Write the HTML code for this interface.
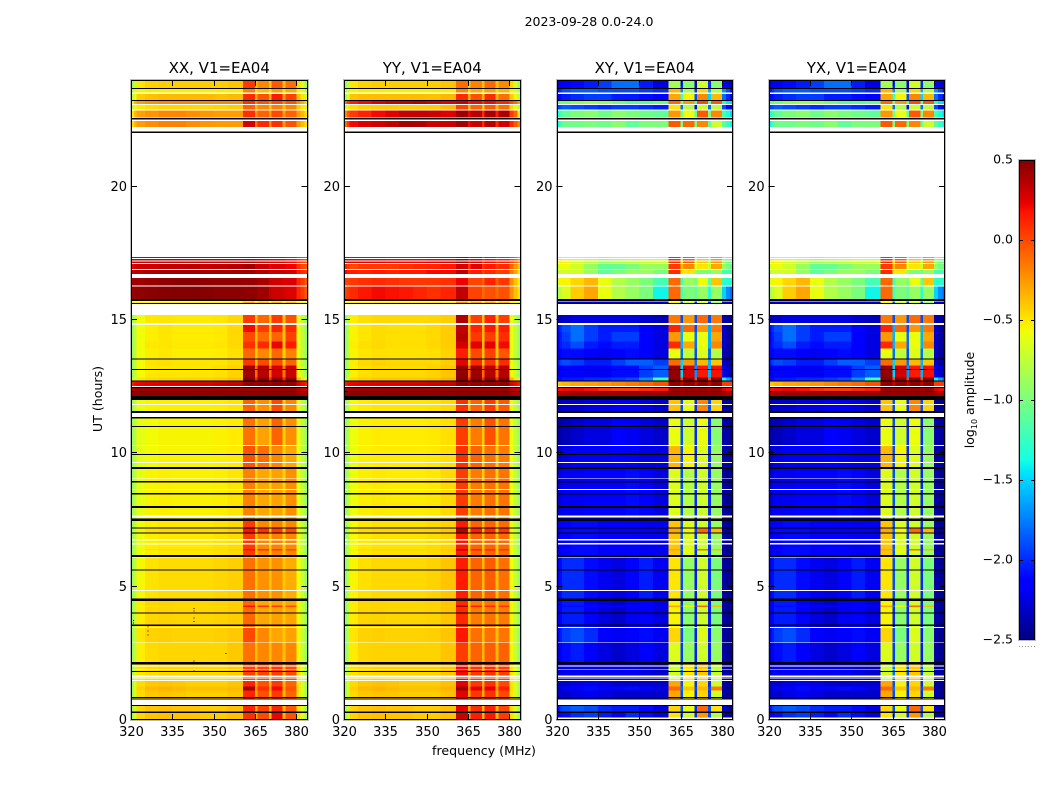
<!DOCTYPE html>
<html>
<head>
<meta charset="utf-8">
<title>2023-09-28 0.0-24.0</title>
<style>
html,body{margin:0;padding:0;background:#fff;width:1050px;height:800px;overflow:hidden}
svg{display:block}
text{font-family:"DejaVu Sans","Liberation Sans",sans-serif;fill:#000}
</style>
</head>
<body>
<svg id="chart" xmlns="http://www.w3.org/2000/svg" width="1050" height="800" viewBox="0 0 1050 800">
<rect x="0" y="0" width="1050" height="800" fill="#fff"/>
<text x="589" y="26" font-size="12.5" text-anchor="middle">2023-09-28 0.0-24.0</text>
<text x="484" y="755" font-size="12.6" text-anchor="middle">frequency (MHz)</text>
<text transform="translate(102,399) rotate(-90)" font-size="12.6" text-anchor="middle">UT (hours)</text>
<text transform="translate(974,400) rotate(-90)" font-size="12.5" text-anchor="middle">log<tspan font-size="8" dy="3">10</tspan><tspan dy="-3"> amplitude</tspan></text>
</svg>
<script>
// ---------- DATA ----------
const panelTitles = ['XX, V1=EA04','YY, V1=EA04','XY, V1=EA04','YX, V1=EA04'];
const xTickValues = [320,335,350,365,380];
const yTickValues = [0,5,10,15,20];
const colorbarTicks = [0.5,0,-0.5,-1,-1.5,-2,-2.5];
// frequency channel edges, MHz (20 channels)
const channelEdges = [320,321,322,325,330,335,340,345,350,355,360.6,365,365.9,370,370.9,375,376,380,381.5,383,384];

// log10 amplitude per channel, for each observed spectrum state
const spectraXX = {
a:[-.85,-.72,-.5,-.44,-.42,-.42,-.42,-.42,-.42,-.4,.05,-.38,-.2,-.42,-.05,-.38,-.12,-.46,-.65,-.85],
b:[-.8,-.66,-.56,-.53,-.53,-.53,-.53,-.53,-.53,-.52,-.18,-.46,-.37,-.5,-.28,-.48,-.32,-.55,-.66,-.8],
c:[-.75,-.58,-.42,-.38,-.36,-.36,-.36,-.36,-.38,-.36,.1,-.3,-.03,-.32,.15,-.28,.02,-.38,-.5,-.7],
d:[-.55,-.35,-.27,-.22,-.2,-.18,-.18,-.18,-.18,-.18,.08,-.18,-.03,-.18,0,-.18,-.03,-.22,-.32,-.45],
e:[-.75,-.6,-.52,-.48,-.46,-.46,-.46,-.46,-.45,-.43,-.08,-.36,-.2,-.4,-.18,-.37,-.2,-.42,-.52,-.66],
f:[-.52,-.37,-.28,-.24,-.2,-.2,-.22,-.25,-.27,-.27,.08,-.25,-.08,-.27,0,-.27,-.08,-.27,-.36,-.48],
g:[-.48,-.35,-.27,-.22,-.18,-.18,-.22,-.25,-.26,-.26,.28,-.12,.1,-.22,.08,-.27,-.03,-.27,-.37,-.48],
h:[.32,.33,.33,.33,.33,.33,.33,.33,.33,.33,.36,.3,.3,.25,.25,.25,.2,.1,.05,0],
i:[.22,.28,.3,.3,.34,.34,.35,.32,.34,.37,.42,.3,.32,.22,.27,.27,.22,.08,0,-.05],
j:[.32,.36,.38,.4,.42,.42,.42,.42,.42,.42,.42,.37,.38,.32,.32,.32,.3,.15,.1,.05],
k:[.4,.42,.42,.44,.46,.47,.47,.46,.45,.45,.44,.42,.4,.3,.3,.27,.27,.12,.05,-.05],
l:[.42,.44,.46,.47,.48,.49,.49,.48,.47,.47,.46,.44,.42,.32,.3,.28,.26,.12,.05,-.05],
m:[-.65,-.55,-.52,-.52,-.5,-.5,-.5,-.5,-.5,-.5,-.28,-.46,-.32,-.48,-.32,-.48,-.36,-.52,-.56,-.65],
n:[-.9,-.75,-.58,-.51,-.5,-.51,-.51,-.51,-.5,-.46,.05,-.38,-.1,-.4,.05,-.4,-.02,-.6,-.75,-.9],
o:[-.9,-.75,-.58,-.53,-.5,-.52,-.52,-.52,-.51,-.46,.2,-.32,.05,-.38,.12,-.38,.1,-.6,-.75,-.9],
p:[-.9,-.75,-.58,-.53,-.5,-.52,-.52,-.52,-.51,-.46,0,-.38,-.1,-.4,-.08,-.4,.03,-.6,-.75,-.9],
q:[-.9,-.75,-.57,-.51,-.5,-.51,-.51,-.51,-.5,-.46,.08,-.36,.1,-.38,.22,-.38,.15,-.6,-.75,-.9],
r:[-.9,-.75,-.58,-.53,-.51,-.53,-.53,-.53,-.52,-.48,-.1,-.42,-.2,-.44,-.1,-.44,-.18,-.6,-.75,-.9],
s:[-.9,-.75,-.57,-.5,-.48,-.5,-.5,-.5,-.5,-.46,.06,-.38,0,-.4,0,-.4,-.08,-.6,-.75,-.9],
t:[-.9,-.75,-.57,-.51,-.5,-.5,-.5,-.5,-.48,-.44,.42,-.1,.36,-.14,.28,-.16,.3,-.56,-.72,-.9],
u:[-.8,-.65,-.5,-.46,-.44,-.44,-.44,-.44,-.42,-.38,.48,.1,.45,.1,.45,.1,.45,-.36,-.5,-.65],
v:[.15,.2,.22,.24,.25,.25,.26,.26,.28,.3,.45,.4,.45,.4,.45,.4,.45,.25,.2,.15],
w:[.38,.4,.42,.42,.42,.42,.42,.42,.42,.42,.42,.42,.42,.42,.42,.42,.42,.35,.32,.3],
x:[.45,.45,.46,.46,.46,.46,.46,.46,.46,.46,.46,.46,.46,.46,.46,.46,.46,.42,.4,.38],
y:[-.9,-.75,-.6,-.55,-.53,-.53,-.53,-.53,-.52,-.5,-.08,-.42,-.22,-.42,0,-.42,-.2,-.6,-.75,-.9],
z:[-.9,-.77,-.62,-.57,-.55,-.55,-.55,-.55,-.54,-.52,-.13,-.44,-.28,-.44,-.08,-.44,-.22,-.6,-.75,-.9],
aa:[-.9,-.77,-.62,-.57,-.55,-.55,-.55,-.55,-.54,-.52,-.03,-.44,-.12,-.44,-.2,-.44,-.3,-.6,-.75,-.9],
ab:[-.9,-.77,-.62,-.55,-.53,-.54,-.54,-.54,-.53,-.5,-.18,-.44,-.3,-.44,-.28,-.44,-.22,-.6,-.75,-.9],
ac:[-.9,-.77,-.59,-.53,-.51,-.51,-.51,-.51,-.49,-.47,.05,-.42,-.2,-.42,-.18,-.42,-.2,-.6,-.75,-.9],
ad:[-.9,-.75,-.56,-.49,-.47,-.47,-.47,-.47,-.45,-.43,-.13,-.4,-.23,-.4,-.23,-.4,-.32,-.58,-.73,-.9],
ae:[-.9,-.75,-.52,-.45,-.44,-.45,-.45,-.45,-.44,-.42,-.1,-.4,-.3,-.4,-.28,-.4,-.3,-.56,-.73,-.9],
ae2:[-.9,-.75,-.5,-.44,-.43,-.44,-.44,-.44,-.43,-.41,0,-.38,-.2,-.4,-.3,-.4,-.28,-.56,-.73,-.9],
af:[-.9,-.75,-.53,-.47,-.45,-.45,-.45,-.45,-.45,-.41,-.13,-.38,-.2,-.38,-.2,-.38,-.2,-.56,-.73,-.9],
ag:[-.85,-.7,-.5,-.47,-.45,-.45,-.45,-.45,-.45,-.42,.03,-.32,.02,-.36,.05,-.32,0,-.5,-.65,-.85],
ah:[-.85,-.68,-.47,-.41,-.39,-.41,-.43,-.43,-.43,-.4,.12,-.32,-.03,-.36,.05,-.36,-.08,-.5,-.67,-.85],
am:[-.85,-.66,-.43,-.36,-.34,-.36,-.38,-.38,-.38,-.36,.4,-.2,.08,-.28,.2,-.28,-.03,-.48,-.66,-.85],
ai:[-.85,-.68,-.45,-.4,-.38,-.4,-.4,-.42,-.42,-.38,.12,-.32,.03,-.38,.12,-.36,-.05,-.48,-.66,-.85],
aj:[-.85,-.68,-.45,-.4,-.38,-.4,-.4,-.42,-.42,-.38,.08,-.32,0,-.38,.22,-.36,-.03,-.48,-.66,-.85],
st:[-.9,-.75,-.55,-.49,-.47,-.47,-.47,-.47,-.47,-.43,.18,-.38,.08,-.38,.05,-.38,0,-.56,-.73,-.9]
};
const spectraYY = {
a:[-.9,-.75,-.5,-.44,-.42,-.42,-.42,-.42,-.42,-.4,-.12,-.4,-.18,-.38,-.1,-.38,-.2,-.46,-.65,-.9],
b:[-.8,-.66,-.56,-.53,-.53,-.53,-.53,-.53,-.53,-.52,-.2,-.46,-.32,-.48,-.28,-.46,-.35,-.55,-.66,-.8],
c:[-.85,-.6,-.4,-.37,-.37,-.37,-.37,-.37,-.38,-.35,.1,-.32,-.03,-.35,.1,-.32,-.12,-.42,-.56,-.75],
d:[-.1,.05,.15,.2,.25,.3,.32,.35,.3,.25,.3,.15,.2,.1,.2,.1,.12,0,-.1,-.25],
e:[-.7,-.55,-.48,-.44,-.42,-.42,-.43,-.43,-.42,-.37,.02,-.35,-.08,-.38,-.06,-.36,-.12,-.46,-.6,-.8],
f:[-.2,-.05,.05,.12,.2,.25,.32,.32,.3,.25,.42,.22,.35,.1,.4,.15,.38,.05,-.1,-.5],
g:[-.1,.05,.2,.25,.28,.33,.4,.38,.3,.3,.4,.2,.3,.1,.35,.1,.28,.1,-.05,-.2],
h:[.3,.28,.25,.25,.25,.22,.22,.22,.25,.28,.4,.2,.28,.1,.2,.1,.15,.05,-.05,-.2],
i:[.1,.05,0,.05,.05,.05,.08,.1,.12,.15,.28,.05,.25,.05,.15,.05,.1,-.1,-.25,-.4],
j:[.2,.15,.15,.12,.15,.12,.15,.15,.2,.2,.35,.1,.15,.02,.1,.02,.05,-.15,-.3,-.5],
k:[.02,.02,.06,.08,.1,.08,.06,.06,.06,.08,.22,0,.02,-.07,.12,-.05,.06,-.22,-.38,-.52],
l:[.02,.06,.1,.16,.2,.18,.16,.12,.08,.12,.33,.02,.02,-.1,-.02,-.1,-.02,-.22,-.38,-.48],
m:[-.65,-.55,-.52,-.52,-.5,-.5,-.5,-.5,-.5,-.5,-.22,-.46,-.27,-.48,-.27,-.48,-.32,-.52,-.56,-.65],
n:[-.9,-.75,-.53,-.48,-.46,-.46,-.46,-.46,-.45,-.42,.38,-.36,.03,-.38,.12,-.38,.03,-.6,-.75,-.9],
o:[-.9,-.75,-.55,-.5,-.47,-.48,-.48,-.48,-.46,-.42,.32,-.32,.12,-.38,.16,-.38,.14,-.6,-.75,-.9],
p:[-.9,-.75,-.55,-.5,-.47,-.48,-.48,-.48,-.46,-.42,.36,-.32,.06,-.38,.04,-.38,.09,-.6,-.75,-.9],
q:[-.9,-.75,-.53,-.48,-.46,-.48,-.48,-.48,-.46,-.42,.28,-.32,.24,-.38,.24,-.38,.2,-.6,-.75,-.9],
r:[-.9,-.75,-.55,-.5,-.48,-.49,-.49,-.49,-.48,-.44,.14,-.38,0,-.4,.03,-.4,-.04,-.6,-.75,-.9],
s:[-.9,-.75,-.53,-.46,-.44,-.46,-.46,-.46,-.46,-.42,.24,-.36,.1,-.38,.07,-.38,.1,-.6,-.75,-.9],
t:[-.9,-.75,-.53,-.48,-.46,-.46,-.46,-.46,-.44,-.4,.46,-.1,.42,-.1,.36,-.14,.36,-.56,-.72,-.9],
u:[-.8,-.65,-.46,-.42,-.4,-.4,-.4,-.4,-.38,-.34,.48,.1,.46,.1,.46,.1,.46,-.36,-.5,-.65],
v:[.15,.2,.22,.24,.25,.25,.26,.26,.28,.3,.46,.4,.45,.4,.45,.4,.45,.25,.2,.15],
w:[.4,.4,.42,.42,.42,.42,.42,.42,.42,.42,.43,.42,.42,.42,.42,.42,.42,.35,.32,.3],
x:[.46,.46,.46,.46,.46,.46,.46,.46,.46,.46,.46,.46,.46,.46,.46,.46,.46,.42,.4,.38],
y:[-.9,-.75,-.57,-.52,-.5,-.5,-.5,-.5,-.49,-.46,.08,-.38,-.08,-.4,.05,-.4,-.05,-.6,-.75,-.9],
z:[-.9,-.77,-.59,-.54,-.52,-.52,-.52,-.52,-.51,-.48,.04,-.42,-.16,-.42,-.02,-.42,-.14,-.6,-.75,-.9],
aa:[-.9,-.77,-.59,-.54,-.52,-.52,-.52,-.52,-.51,-.48,.08,-.42,-.08,-.42,-.12,-.42,-.16,-.6,-.75,-.9],
ab:[-.9,-.77,-.59,-.53,-.51,-.52,-.52,-.52,-.51,-.46,.04,-.42,-.16,-.42,-.12,-.42,-.14,-.6,-.75,-.9],
ac:[-.9,-.77,-.57,-.51,-.49,-.49,-.49,-.49,-.47,-.44,.15,-.4,-.08,-.4,-.08,-.4,-.11,-.6,-.75,-.9],
ad:[-.9,-.75,-.55,-.48,-.46,-.46,-.46,-.46,-.44,-.4,.14,-.38,-.08,-.38,-.06,-.38,-.12,-.58,-.73,-.9],
ae:[-.9,-.75,-.52,-.45,-.44,-.45,-.45,-.45,-.44,-.4,.1,-.38,-.16,-.38,-.14,-.38,-.16,-.56,-.73,-.9],
ae2:[-.9,-.75,-.5,-.44,-.43,-.44,-.44,-.44,-.43,-.4,.16,-.36,-.12,-.38,-.12,-.38,-.14,-.56,-.73,-.9],
af:[-.9,-.75,-.52,-.45,-.44,-.44,-.44,-.44,-.44,-.4,.04,-.36,-.08,-.36,-.06,-.36,-.08,-.56,-.73,-.9],
ag:[-.85,-.7,-.49,-.46,-.44,-.44,-.44,-.44,-.44,-.4,.2,-.28,.06,-.32,.08,-.32,.04,-.5,-.65,-.85],
ah:[-.85,-.68,-.47,-.41,-.39,-.4,-.42,-.42,-.42,-.38,.24,-.3,.06,-.32,.08,-.32,0,-.5,-.67,-.85],
am:[-.85,-.66,-.43,-.36,-.34,-.36,-.38,-.38,-.38,-.34,.44,-.16,.24,-.22,.24,-.22,.14,-.48,-.66,-.85],
ai:[-.85,-.68,-.45,-.4,-.38,-.4,-.4,-.42,-.42,-.38,.24,-.3,.08,-.36,.12,-.34,0,-.48,-.66,-.85],
aj:[-.85,-.68,-.45,-.4,-.38,-.4,-.4,-.42,-.42,-.38,.3,-.3,.14,-.36,.16,-.34,.04,-.48,-.66,-.85],
st:[-.9,-.75,-.53,-.47,-.45,-.45,-.45,-.45,-.45,-.41,.35,-.36,.14,-.38,.1,-.38,.06,-.56,-.73,-.9]
};
const spectraXY = {
a:[-2.3,-2.2,-2.15,-2.1,-2.05,-1.95,-1.8,-1.8,-2.05,-2.25,-.85,-2,-.95,-2.3,-.7,-2,-.95,-2.15,-2.25,-2.3],
b:[-2.1,-2,-1.9,-1.85,-1.85,-1.9,-1.9,-1.9,-1.95,-2,-.35,-1.7,-.85,-2,-.45,-1.6,-.8,-1.7,-1.9,-2.1],
c:[-2.2,-2.1,-2.05,-2,-1.95,-1.95,-2.05,-2.05,-2.1,-2.15,-.3,-1.2,-.55,-1.9,-.2,-1.5,-.35,-1.8,-2,-2.2],
d:[-1.2,-1.1,-1.05,-.95,-.9,-.95,-1.05,-1.15,-1.15,-1.1,-.1,-1,-.25,-1.2,0,-1.1,-.05,-1.3,-1.45,-1.5],
e:[-1.95,-1.9,-1.85,-1.9,-1.95,-2,-1.95,-1.95,-2,-2.05,-.5,-1.8,-.8,-2.1,-.7,-1.8,-.75,-1.9,-2.1,-2.2],
f:[-1.35,-1.2,-1.1,-1,-.95,-1.05,-.95,-1,-1.05,-1.1,-.25,-1,-.6,-1.1,-.05,-1,-.2,-1.2,-1.35,-1.5],
g:[-1.4,-1.2,-1.05,-1.05,-1,-1.05,-.95,-1.1,-1,-1,-.05,-1,-.1,-1,-.2,-1.1,-.7,-1.1,-1.25,-1.4],
h:[-.55,-.5,-.55,-.65,-.75,-.85,-.8,-.75,-.7,-.7,.1,-.5,-.05,-.7,-.4,-.8,-.25,-.9,-1,-1.1],
i:[-.7,-.6,-.6,-.7,-.9,-1.1,-1.1,-1,-.9,-.9,.05,-.4,-.2,-.6,-.5,-.7,-.3,-.9,-1,-1.1],
j:[-.8,-.7,-.7,-.7,-.9,-1.1,-1,-.9,-.9,-1,.1,-.5,-.5,-.9,-1,-1,-.9,-1.2,-1.2,-1.2],
k:[-.65,-.55,-.55,-.45,-.35,-.6,-.8,-.9,-1,-1.2,-.1,-1.2,-.9,-1,-.6,-1.1,-.4,-1.3,-1.3,-1.3],
l:[-.85,-.75,-.65,-.42,-.3,-.6,-.8,-.9,-1,-1.4,-.1,-1.2,-1,-1.1,-.9,-1.3,-.9,-1.5,-1.7,-1.8],
m:[-2.3,-2.3,-2.3,-2.3,-2.3,-2.3,-2.3,-2.3,-2.3,-2.3,-.55,-1.9,-.7,-2,-.7,-2,-.9,-2.3,-2.3,-2.4],
n:[-2.4,-2.35,-2.3,-2.25,-2.25,-2.25,-2.25,-2.25,-2.3,-2.35,-.15,-1.9,-.25,-1.9,-.1,-1.9,-.15,-2.4,-2.4,-2.45],
o:[-2.1,-2,-1.9,-1.8,-1.95,-2.05,-2.05,-2.05,-2.15,-2.25,.12,-1.6,-.1,-1.9,-.25,-1.6,-.15,-2.3,-2.4,-2.45],
p:[-2.15,-2.05,-1.95,-1.8,-1.95,-2.05,-1.95,-1.95,-2.15,-2.25,-.25,-1.6,-.6,-1.8,-.6,-1.6,-.3,-2.3,-2.4,-2.45],
q:[-2.15,-2.05,-2,-1.9,-2.05,-2.1,-2.05,-2.05,-2.15,-2.25,.1,-1.6,-.3,-1.8,-.6,-1.6,-.2,-2.3,-2.4,-2.45],
r:[-2.2,-2.15,-2.1,-2.1,-2.15,-2.2,-2.15,-2.1,-2.15,-2.25,-.6,-1.8,-.75,-1.9,-.65,-1.8,-.8,-2.35,-2.4,-2.45],
s:[-2.05,-1.95,-1.9,-1.95,-2.05,-2.05,-1.95,-1.85,-1.85,-1.95,-.1,-1.5,-.25,-1.8,-.35,-1.6,-.4,-2.3,-2.4,-2.45],
t:[-2.25,-2.2,-2.15,-2.15,-2.2,-2.2,-2.1,-2.1,-1.95,-1.85,.45,-1.5,.28,-1.7,.15,-1.6,.18,-2.25,-2.3,-2.35],
u:[-2.1,-2.1,-2.05,-2.05,-2,-2,-1.95,-1.9,-1.7,-1.2,.48,.0,.47,.0,.47,.0,.47,-1.4,-1.6,-1.8],
v:[-.4,-.4,-.35,-.3,-.28,-.25,-.2,-.15,-.1,-.02,.46,.3,.46,.3,.46,.3,.46,.05,.05,.05],
w:[.2,.18,.2,.22,.18,.1,.05,.05,.1,.15,.42,.4,.42,.4,.42,.4,.42,.25,.2,.2],
x:[.38,.38,.4,.42,.42,.42,.42,.42,.42,.42,.44,.44,.44,.44,.44,.44,.44,.4,.38,.38],
y:[-2.4,-2.35,-2.3,-2.3,-2.25,-2.25,-2.2,-2.2,-2.25,-2.3,-.4,-1.9,-.6,-2,-.2,-1.9,-.45,-2.45,-2.45,-2.45],
z:[-2.4,-2.4,-2.35,-2.3,-2.25,-2.25,-2.15,-2.2,-2.25,-2.3,-.6,-1.9,-.7,-2,-.6,-2,-.95,-2.4,-2.4,-2.45],
aa:[-2.35,-2.3,-2.25,-2.2,-2.2,-2.2,-2.15,-2.2,-2.25,-2.25,-.35,-1.9,-.55,-2,-.65,-2,-.9,-2.4,-2.4,-2.45],
ab:[-2.3,-2.25,-2.2,-2.2,-2.15,-2.15,-2.15,-2.1,-2.15,-2.25,-.65,-1.9,-.8,-2,-.7,-2,-.9,-2.4,-2.45,-2.45],
ac:[-2.25,-2.2,-2.15,-2.1,-2.1,-2.15,-2.15,-2.15,-2.2,-2.2,-.4,-1.9,-.65,-2,-.7,-2,-.9,-2.4,-2.45,-2.45],
ad:[-2.2,-2.1,-2,-2,-2.1,-2.2,-2.25,-2.15,-2.05,-2.2,-.5,-1.9,-.9,-2.05,-.7,-2,-1,-2.4,-2.45,-2.45],
ae:[-2.2,-2.15,-2.05,-2.05,-2.15,-2.25,-2.3,-2.2,-2.15,-2.25,-.55,-2,-.95,-2.05,-.7,-2.05,-1,-2.4,-2.45,-2.45],
ae2:[-2.15,-2.05,-1.95,-1.9,-2,-2.15,-2.2,-2.15,-2.1,-2.2,-.45,-1.9,-1,-2.05,-.65,-2.05,-.95,-2.4,-2.45,-2.45],
af:[-2.3,-2.2,-2.1,-2.05,-2.15,-2.25,-2.3,-2.25,-2.15,-2.25,-.65,-1.95,-.9,-2.05,-.7,-2.05,-.9,-2.4,-2.45,-2.45],
ag:[-2.3,-2.25,-2.2,-2.2,-2.2,-2.2,-2.2,-2.2,-2.25,-2.3,-.7,-1.8,-.5,-1.9,-.4,-1.9,-.75,-2.4,-2.4,-2.45],
ah:[-2.35,-2.3,-2.3,-2.25,-2.2,-2.25,-2.3,-2.3,-2.3,-2.3,-.3,-1.9,-.55,-2,-.45,-2,-.7,-2.4,-2.45,-2.45],
am:[-2.35,-2.25,-2.2,-2.15,-2.1,-2.15,-2.15,-2.1,-2.15,-2.25,-.1,-1.8,-.4,-1.9,-.35,-1.9,-.15,-2.4,-2.45,-2.45],
ai:[-2.1,-1.95,-1.9,-1.85,-1.9,-2,-2.05,-2.05,-2.1,-2.25,-.45,-1.9,-.6,-2,-.1,-1.9,-.5,-2.3,-2.4,-2.45],
aj:[-2.25,-2.15,-2.1,-2,-1.95,-2.05,-2.15,-2,-2.1,-2.25,-.5,-1.9,-.7,-2,-.25,-1.9,-.8,-2.35,-2.4,-2.45],
st:[-2.25,-2.15,-2.1,-2.1,-2.1,-2.15,-2.15,-2.15,-2.15,-2.2,-.3,-1.8,-.55,-1.9,-.1,-2.0,-.35,-2.4,-2.45,-2.45]
};
const spectraYX = spectraXY;

// observation bands: [start hour, end hour, spectrum state]
const timeBands = [
[0,.12,'aj'],[.12,.27,'aj'],[.31,.54,'ai'],[.8,.84,'ah'],[.87,1.1,'ah'],[1.1,1.25,'am'],[1.25,1.46,'ah'],
[1.5,1.55,'ag'],[1.59,1.62,'ag'],[1.66,1.81,'ag'],[1.84,1.89,'ag'],[1.92,2.01,'ag'],[2.05,2.09,'ag'],
[2.18,2.88,'af'],[2.91,3.45,'ae2'],[3.49,3.52,'ae'],[3.59,3.99,'ae'],[3.99,4.04,'ae'],[4.04,4.24,'ae'],[4.24,4.3,'st'],[4.3,4.47,'ae'],
[4.55,4.84,'ad'],[4.88,5.62,'ad'],[5.65,6.09,'ad'],[6.19,6.36,'ac'],[6.36,6.42,'st'],[6.42,6.59,'ac'],[6.63,6.74,'ac'],[6.78,7.01,'ac'],
[7.04,7.2,'st'],[7.22,7.47,'ac'],[7.55,7.6,'ab'],[7.66,7.95,'ab'],[8.03,8.45,'ab'],[8.51,8.63,'ab'],[8.66,8.91,'ab'],[8.96,9.03,'ab'],
[9.06,9.41,'ab'],[9.49,9.64,'aa'],[9.68,9.94,'aa'],[9.98,10.28,'aa'],[10.31,10.99,'z'],[11.03,11.3,'z'],[11.59,11.81,'y'],[11.85,12,'y'],
[12.15,12.3,'x'],[12.3,12.34,'t'],[12.34,12.45,'w'],[12.53,12.64,'v'],[12.64,12.7,'v'],[12.74,12.85,'u'],[12.85,13.125,'t'],[13.16,13.29,'t'],
[13.29,13.52,'s'],[13.56,13.94,'r'],[13.94,14.19,'q'],[14.19,14.55,'p'],[14.55,14.82,'o'],[14.89,15.19,'n'],
[15.64,15.69,'m'],[15.78,16.25,'l'],[16.29,16.575,'k'],[16.725,16.875,'j'],[16.91,17.1,'i'],[17.14,17.2,'h'],[17.24,17.29,'h'],[17.33,17.37,'h'],
[22.24,22.47,'g'],[22.59,22.86,'f'],[22.9,23.06,'e'],[23.1,23.21,'d'],[23.25,23.47,'c'],[23.54,23.66,'b'],[23.7,24,'a']
];
// hours where the cross-hand products carry no data (left white)
const crossHandBlanks = [[0,.09]];
// fully flagged (black) hour ranges, drawn across every panel
const blackFlags = [
[.27,.31],[.54,.56],[.76,.8],[.84,.87],[1.81,1.84],[2.09,2.18],[3.52,3.59],[3.99,4.04],[4.47,4.55],[5.62,5.65],[6.12,6.19],[7.01,7.04],[7.2,7.22],
[7.47,7.55],[7.95,8.03],[8.45,8.51],[8.91,8.96],[9.41,9.49],[9.94,9.98],[10.99,11.03],[11.3,11.36],[11.52,11.59],[12,12.15],[12.3,12.34],
[12.45,12.49],[12.7,12.74],[13.125,13.16],[13.52,13.56],[15.61,15.64],[15.72,15.78],[22.02,22.06],[22.52,22.58],[23.21,23.25],[23.66,23.7]
];
// isolated outlier samples: [frequency MHz, hour]
const outlierSamples = [[342.6,4.2],[342.6,4.1],[342.6,3.84],[342.6,3.72],[342.6,2.24],[342.6,1.85],[325.9,3.5],[325.9,3.35],[325.9,3.2],[320.8,3.75],[320.8,3.65],[354.2,2.51]];

// ---------- RENDER ----------
const NS = 'http://www.w3.org/2000/svg';
const svg = document.getElementById('chart');
const plotTop = 80, plotBottom = 720, plotWidth = 176.5;
const panelLefts = [131,344,556.5,768.6];
const spectraByPanel = [spectraXX,spectraYY,spectraXY,spectraYX];
const tMax = 24, fMin = 320, fMax = 384, cMin = -2.5, cMax = 0.5;

function make(tag, attrs, parent){
  const el = document.createElementNS(NS, tag);
  for (const k in attrs) el.setAttribute(k, attrs[k]);
  (parent || svg).appendChild(el);
  return el;
}
function yScale(h){ return plotBottom - (h / tMax) * (plotBottom - plotTop); }
function xScale(f, left){ return left + (f - fMin) / (fMax - fMin) * plotWidth; }
function seg(pts, t){
  for (let i = 1; i < pts.length; i++){
    if (t <= pts[i][0]){
      const a = pts[i-1], b = pts[i];
      return a[1] + (b[1]-a[1]) * (t-a[0]) / (b[0]-a[0]);
    }
  }
  return pts[pts.length-1][1];
}
const jetR = [[0,0],[.35,0],[.66,1],[.89,1],[1,.5]];
const jetG = [[0,0],[.125,0],[.375,1],[.64,1],[.91,0],[1,0]];
const jetB = [[0,.5],[.11,1],[.34,1],[.65,0],[1,0]];
function colorOf(v){
  const t = Math.max(0, Math.min(1, (v - cMin) / (cMax - cMin)));
  return 'rgb(' + Math.round(255*seg(jetR,t)) + ',' + Math.round(255*seg(jetG,t)) + ',' + Math.round(255*seg(jetB,t)) + ')';
}

panelTitles.forEach(function(title, p){
  const left = panelLefts[p];
  const right = left + plotWidth;
  const spectra = spectraByPanel[p];
  const g = make('g', {});
  
  

  const cells = make('g', {'shape-rendering':'crispEdges'}, g);
  
  
  timeBands.forEach(function(band){
    const values = spectra[band[2]];
    values.forEach(function(v, c){
      const x0 = xScale(channelEdges[c], left), x1 = xScale(channelEdges[c+1], left);
      const y0 = yScale(band[1]), y1 = yScale(band[0]);
      const cell = make('rect', {x:x0.toFixed(2), y:y0.toFixed(2), width:(x1-x0).toFixed(2), height:(y1-y0).toFixed(2), fill:colorOf(v)}, cells);
      
      
    });
  });
  if (p >= 2) crossHandBlanks.forEach(function(b){
    const blank = make('rect', {x:left, y:yScale(b[1]), width:plotWidth, height:yScale(b[0])-yScale(b[1]), fill:'#fff'}, cells);
    
    
  });
  blackFlags.forEach(function(b){
    const flag = make('rect', {x:left, y:yScale(b[1]).toFixed(2), width:plotWidth, height:Math.max(1,yScale(b[0])-yScale(b[1])).toFixed(2), fill:'#000'}, cells);
    
    
  });
  if (p === 0) outlierSamples.forEach(function(s){
    const dot = make('rect', {x:xScale(s[0],left).toFixed(2), y:yScale(s[1]).toFixed(2), width:1, height:1, fill:'#300'}, cells);
    
    
  });

  const fx = Math.round(left), fr = Math.round(right);
  const outer = make('rect', {x:fx-0.5, y:plotTop-0.5, width:fr-fx+1, height:plotBottom-plotTop+1, fill:'none', stroke:'#bbb', 'stroke-width':1, 'shape-rendering':'crispEdges'}, g);
  
  
  const frame = make('rect', {x:fx+0.5, y:plotTop+0.5, width:fr-fx-1, height:plotBottom-plotTop-1, fill:'none', stroke:'#000', 'stroke-width':1, 'shape-rendering':'crispEdges'}, g);
  
  

  const head = make('text', {x:(left+right)/2, y:73, 'font-size':15, 'text-anchor':'middle'}, g);
  head.textContent = title;
  
  

  xTickValues.forEach(function(f){
    const x = Math.round(xScale(f,left)) + 0.5;
    const tb = make('line', {x1:x, x2:x, y1:plotBottom, y2:plotBottom-6, stroke:'#000', 'stroke-width':1}, g);
    
    
    const tt = make('line', {x1:x, x2:x, y1:plotTop, y2:plotTop+6, stroke:'#000', 'stroke-width':1}, g);
    
    
    const lab = make('text', {x:x, y:736, 'font-size':13, 'text-anchor':'middle'}, g);
    lab.textContent = String(f);
    
    
  });
  yTickValues.forEach(function(h){
    const y = Math.round(yScale(h)) - 0.5;
    const tl = make('line', {x1:left, x2:left+6, y1:y, y2:y, stroke:'#000', 'stroke-width':1}, g);
    
    
    const tr = make('line', {x1:right, x2:right-6, y1:y, y2:y, stroke:'#000', 'stroke-width':1}, g);
    
    
    const lab = make('text', {x:left-4, y:y+4.5, 'font-size':13, 'text-anchor':'end'}, g);
    lab.textContent = String(h);
    
    
  });
});

// colorbar
const cbX = 1019, cbW = 16, cbTop = 160, cbBottom = 640;
const cbGroup = make('g', {});


function cbY(v){ return cbBottom - (v - cMin) / (cMax - cMin) * (cbBottom - cbTop); }
const cbCells = make('g', {'shape-rendering':'crispEdges'}, cbGroup);
for (let py = cbTop; py < cbBottom; py += 2){
  const v = cMax - (py + 1 - cbTop) / (cbBottom - cbTop) * (cMax - cMin);
  const s = make('rect', {x:cbX, y:py, width:cbW, height:2, fill:colorOf(v)}, cbCells);
  
  
}
const cbOuter = make('rect', {x:cbX-0.5, y:cbTop-0.5, width:cbW+1, height:cbBottom-cbTop+1, fill:'none', stroke:'#bbb', 'shape-rendering':'crispEdges'}, cbGroup);


const cbFrame = make('rect', {x:cbX+0.5, y:cbTop+0.5, width:cbW-1, height:cbBottom-cbTop-1, fill:'none', stroke:'#000', 'shape-rendering':'crispEdges'}, cbGroup);


colorbarTicks.forEach(function(v){
  const y = Math.round(cbY(v)) + (v === cMin ? -0.5 : 0.5);
  [[cbX,cbX+4],[cbX+cbW,cbX+cbW-4]].forEach(function(e){
    const t = make('line', {x1:e[0], x2:e[1], y1:y, y2:y, stroke:'#000'}, cbGroup);
    
    
  });
  const lab = make('text', {x:1013, y:cbY(v)+3.5, 'font-size':12.5, 'text-anchor':'end'}, cbGroup);
  lab.textContent = (v < 0 ? '\u2212' : '') + Math.abs(v).toFixed(1);
  
  
});
for (let i = 0; i < 6; i++){
  const d = make('rect', {x:cbX + i * 3, y:646, width:1, height:1, fill:'#999'}, cbGroup);
  
  
}
</script>
</body>
</html>
